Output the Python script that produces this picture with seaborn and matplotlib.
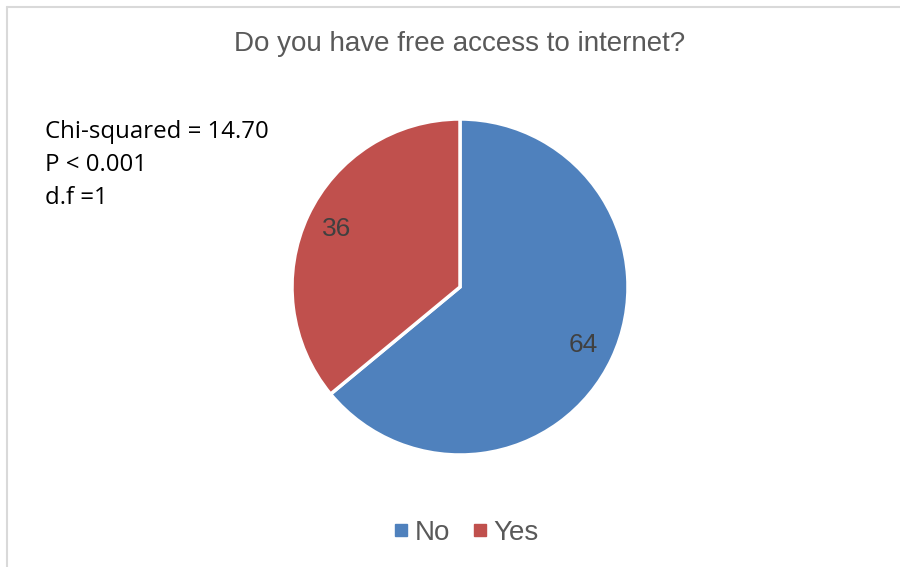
import matplotlib
matplotlib.use("Agg")
import matplotlib.pyplot as plt
import seaborn as sns
from matplotlib.lines import Line2D

categories = ["No", "Yes"]
values = [64, 36]
colors_hex = ["#4F81BD", "#C0504D"]
title = "Do you have free access to internet?"
stats_text = "Chi-squared = 14.70\nP < 0.001\nd.f =1"

sns.set_theme(style="white")
plt.rcParams['font.family'] = ['Liberation Sans', 'DejaVu Sans']
palette = sns.color_palette(colors_hex)

fig = plt.figure(figsize=(9, 5.67), dpi=100)
W, H = 900, 567
cx, cy, r = 460, 287, 168
ax = fig.add_axes([(cx - r) / W, (H - cy - r) / H, 2 * r / W, 2 * r / H])

wedges, texts, autotexts = ax.pie(
    values, colors=palette, startangle=90, counterclock=False,
    autopct=lambda p: f"{p:.0f}", pctdistance=0.81,
    wedgeprops=dict(edgecolor="white", linewidth=2.5),
    textprops=dict(color="#404040", fontsize=19),
)
ax.set_aspect("equal")
ax.set_xlim(-1, 1)
ax.set_ylim(-1, 1)
ax.axis("off")

fig.text(cx / W, 1 - 44 / H, title, ha="center", va="center",
         fontsize=20, color="#595959")
fig.text(45 / W, 1 - 120 / H, stats_text, ha="left", va="top",
         fontsize=17.3, color="black", linespacing=1.5,
         family=["Open Sans", "DejaVu Sans"])

handles = [Line2D([0], [0], marker="s", linestyle="none", markersize=8,
                  markerfacecolor=c, markeredgecolor=c) for c in palette]
fig.legend(handles, categories, loc="center", bbox_to_anchor=(463 / W, 1 - 533 / H),
           ncol=2, frameon=False, fontsize=20, labelcolor="#595959",
           handletextpad=0.0, columnspacing=0.55, handlelength=1.0)

# chart border (top and left edges visible)
fig.add_artist(Line2D([7 / W, 7 / W], [0, 1 - 7 / H], transform=fig.transFigure,
                      color="#D9D9D9", linewidth=1.5))
fig.add_artist(Line2D([7 / W, 1], [1 - 7 / H, 1 - 7 / H], transform=fig.transFigure,
                      color="#D9D9D9", linewidth=1.5))

fig.savefig("out.png", dpi=100, facecolor="white")
